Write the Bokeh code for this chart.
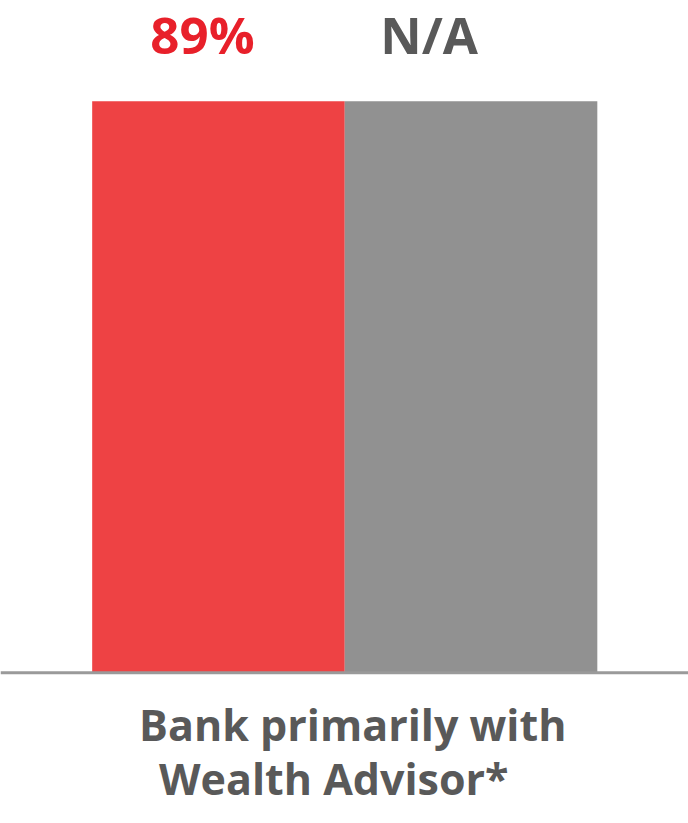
from bokeh.plotting import figure
from bokeh.models import Range1d, Span, ColumnDataSource
from bokeh.core.properties import value
from bokeh.embed import file_html
from bokeh.resources import INLINE

# ---- data ----
category_lines = ["Bank primarily with", "Wealth Advisor*"]
series = ["Group A", "Group B"]
bar_heights = [89, 89]
value_labels = ["89%", "N/A"]
bar_colors = ["#EE4244", "#919191"]
label_colors = ["#E8202A", "#595959"]

xs = [i + 0.5 for i in range(len(series))]

p = figure(width=688, height=823, output_backend="svg", toolbar_location=None,
           x_range=Range1d(-0.363, 2.361), y_range=Range1d(-23.5, 104.7),
           min_border=0, outline_line_color=None)
p.axis.visible = False
p.grid.visible = False
p.background_fill_color = "white"
p.border_fill_color = "white"

bars = ColumnDataSource(dict(x=xs, top=bar_heights, color=bar_colors,
                             label=value_labels, lcolor=label_colors,
                             dx=[-16, -42]))
p.vbar(x="x", top="top", bottom=0, width=1.0, fill_color="color",
       line_color=None, source=bars)

p.add_layout(Span(location=0, dimension="width", line_color="#9A9A9A", line_width=3))

p.text(x="x", y="top", text="label", text_color="lcolor", source=bars,
       x_offset="dx", y_offset=-67, text_align="center", text_baseline="alphabetic",
       text_font=value("Open Sans"), text_font_style="bold", text_font_size="51px")

cat = ColumnDataSource(dict(x=[1.0] * len(category_lines), y=[0] * len(category_lines),
                            text=category_lines, dx=[8, -11], dy=[52, 106]))
p.text(x="x", y="y", text="text", source=cat, x_offset="dx", y_offset="dy",
       text_align="center", text_baseline="alphabetic", text_color="#595959",
       text_font=value("Open Sans"), text_font_style="bold", text_font_size="43px")

open("out.html", "w").write(file_html(p, INLINE))
